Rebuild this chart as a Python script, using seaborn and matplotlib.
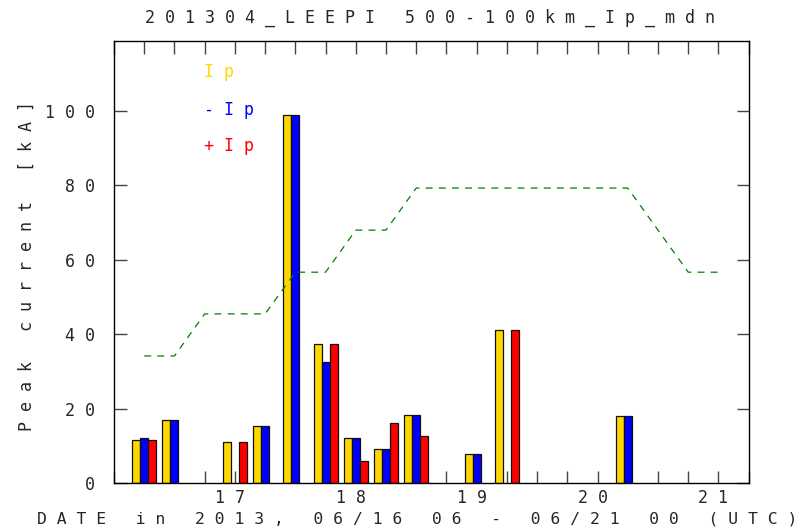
import numpy as np
import pandas as pd
import matplotlib
matplotlib.use("Agg")
import matplotlib.pyplot as plt
import seaborn as sns

# Hours since 06/16 00 UTC for each bar group (one group every 6 h)
hours = [6, 12, 24, 30, 36, 42, 48, 54, 60, 72, 78, 102]
ip = [11.6, 16.9, 11.2, 15.5, 98.9, 37.3, 12.2, 9.3, 18.3, 7.9, 41.3, 18.1]
neg_ip = [12.1, 16.9, np.nan, 15.5, 98.9, 32.5, 12.2, 9.3, 18.3, 7.9, np.nan, 18.1]
pos_ip = [11.6, np.nan, 11.2, np.nan, np.nan, 37.3, 6.1, 16.3, 12.6, np.nan, 41.3, np.nan]

# Dashed green reference line
line_hours = [6, 12, 18, 24, 30, 36, 42, 48, 54, 60, 66, 72, 78, 84, 90, 96, 102, 108, 114, 120]
line_vals = [34.2, 34.2, 45.5, 45.5, 45.5, 56.7, 56.7, 68.0, 68.0, 79.3,
             79.3, 79.3, 79.3, 79.3, 79.3, 79.3, 79.3, 68.0, 56.7, 56.7]

day_hours = [24, 48, 72, 96, 120]
day_labels = ["17", "18", "19", "20", "21"]
yticks = [0, 20, 40, 60, 80, 100]

series = ["Ip", "-Ip", "+Ip"]
colors = {"Ip": "#FFD700", "-Ip": "#0000FF", "+Ip": "#FF0000"}


def spaced(s):
    # the original font draws text with wide letter spacing
    return " ".join(s)


# Build long table for seaborn
df = pd.DataFrame({
    "hour": hours * 3,
    "value": ip + neg_ip + pos_ip,
    "kind": ["Ip"] * len(hours) + ["-Ip"] * len(hours) + ["+Ip"] * len(hours),
})

sns.set_style("ticks")
plt.rcParams["font.family"] = ["DejaVu Sans Mono"]
fs = 12

fig = plt.figure(figsize=(8.12, 5.29), dpi=100)
ax = fig.add_axes([0.1404, 0.0864, 0.7816, 0.8361])

# Bars
sns.barplot(data=df, x="hour", y="value", hue="kind", hue_order=series,
            palette=colors, saturation=1, native_scale=True, width=0.795,
            gap=0, errorbar=None, edgecolor="#111111", linewidth=0.9,
            legend=False, ax=ax)

# Dashed line
sns.lineplot(x=line_hours, y=line_vals, color="#008000", linewidth=0.9,
             linestyle=(0, (5.5, 5)), ax=ax, zorder=3)

# Axes setup
ax.set_xlim(0, 126)
ax.set_ylim(0, 118.8)
ax.set_xticks(np.arange(0, 127, 6))
ax.set_xticklabels([spaced(day_labels[day_hours.index(h)]) + " " if h in day_hours else ""
                    for h in range(0, 127, 6)], fontsize=fs)
ax.set_yticks(yticks)
ax.set_yticklabels([spaced(str(v)) for v in yticks], fontsize=fs)
ax.tick_params(axis="x", direction="in", length=9, width=1, color="#444444",
               top=True, bottom=True, pad=4)
ax.tick_params(axis="y", direction="in", length=9, width=1, color="#444444",
               left=True, right=True, pad=14)
ax.set_xlabel("")
ax.set_ylabel("")
for sp in ax.spines.values():
    sp.set_visible(True)
    sp.set_color("black")
    sp.set_linewidth(1)

# Legend as coloured text
ax.text(17.8, 110.5, spaced("Ip"), color=colors["Ip"], fontsize=fs, va="center")
ax.text(17.8, 100.4, spaced("-Ip"), color=colors["-Ip"], fontsize=fs, va="center")
ax.text(17.8, 90.6, spaced("+Ip"), color=colors["+Ip"], fontsize=fs, va="center")

# Titles and labels
fig.text(0.53, 0.966, spaced("201304_LEEPI 500-100km_Ip_mdn"), fontsize=fs,
         ha="center", va="center")
fig.text(0.514, 0.019, spaced("DATE in 2013, 06/16 06 - 06/21 00 (UTC)"),
         fontsize=11.8, ha="center", va="center")
fig.text(0.033, 0.497, spaced("Peak current [kA]"), fontsize=fs,
         ha="center", va="center", rotation=90)

fig.savefig("out.png", dpi=100)
